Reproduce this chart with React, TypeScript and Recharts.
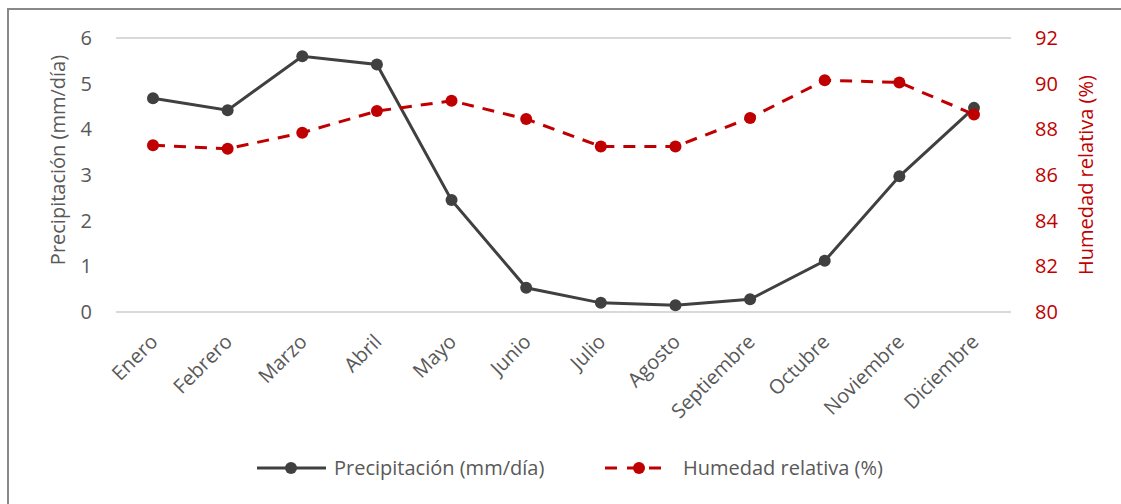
import React from "react"
import { ComposedChart, Line, XAxis, YAxis, CartesianGrid, Legend } from "recharts"

const months = [
  "Enero", "Febrero", "Marzo", "Abril", "Mayo", "Junio",
  "Julio", "Agosto", "Septiembre", "Octubre", "Noviembre", "Diciembre",
]
const precipitacion = [4.68, 4.42, 5.6, 5.42, 2.45, 0.53, 0.2, 0.15, 0.28, 1.12, 2.97, 4.47]
const humedad = [87.3, 87.15, 87.85, 88.8, 89.25, 88.45, 87.25, 87.25, 88.5, 90.15, 90.05, 88.65]
const leftTicks = [0, 1, 2, 3, 4, 5, 6]
const rightTicks = [80, 82, 84, 86, 88, 90, 92]

const FONT = "'Open Sans', sans-serif"
const GREY = "#595959"
const DARK = "#404040"
const RED = "#C00000"

const chartData = months.map((m, i) => ({
  month: m,
  precip: precipitacion[i],
  hum: humedad[i],
}))

// rotated month labels, anchored at their end just below the tick
const MonthTick = ({ x, y, payload }: any) => (
  <text
    x={x + 6}
    y={y + 23}
    transform={`rotate(-45, ${x + 6}, ${y + 23})`}
    textAnchor="end"
    fill={GREY}
    fontSize={20}
    fontFamily={FONT}
  >
    {payload.value}
  </text>
)

const LeftLabel = ({ viewBox }: any) => (
  <text
    x={57}
    y={viewBox.y + viewBox.height / 2 - 15}
    transform={`rotate(-90, 57, ${viewBox.y + viewBox.height / 2 - 15})`}
    textAnchor="middle"
    dominantBaseline="central"
    fill={GREY}
    fontSize={20}
    fontFamily={FONT}
  >
    Precipitación (mm/día)
  </text>
)

const RightLabel = ({ viewBox }: any) => (
  <text
    x={1085}
    y={viewBox.y + viewBox.height / 2}
    transform={`rotate(-90, 1085, ${viewBox.y + viewBox.height / 2})`}
    textAnchor="middle"
    dominantBaseline="central"
    fill={RED}
    fontSize={20}
    fontFamily={FONT}
  >
    Humedad relativa (%)
  </text>
)

const LegendContent = () => (
  <div style={{ position: "relative", height: 30, fontFamily: FONT, fontSize: 20, color: GREY }}>
    <svg width={72} height={30} style={{ position: "absolute", left: 256, top: 0 }}>
      <line x1={1} y1={15} x2={70} y2={15} stroke={DARK} strokeWidth={3} />
      <circle cx={35} cy={15} r={6} fill={DARK} />
    </svg>
    <span style={{ position: "absolute", left: 334, top: 0, lineHeight: "30px", whiteSpace: "nowrap" }}>
      Precipitación (mm/día)
    </span>
    <svg width={60} height={30} style={{ position: "absolute", left: 604, top: 0 }}>
      <line x1={1} y1={15} x2={58} y2={15} stroke={RED} strokeWidth={3} strokeDasharray="12 10" />
      <circle cx={35} cy={15} r={6} fill={RED} />
    </svg>
    <span style={{ position: "absolute", left: 683, top: 0, lineHeight: "30px", whiteSpace: "nowrap" }}>
      Humedad relativa (%)
    </span>
  </div>
)

export default function App() {
  return (
    <div style={{ position: "absolute", left: 0, top: 0, width: 1121, height: 504, background: "#fff", overflow: "hidden" }}>
      <div
        style={{
          position: "absolute", left: 7, top: 8, width: 1130, height: 520,
          border: "2px solid #888", boxSizing: "border-box",
        }}
      />
      <div style={{ position: "absolute", left: 0, top: 0 }}>
        <ComposedChart
          width={1121}
          height={504}
          data={chartData}
          margin={{ top: 38, right: 0, left: 0, bottom: 52 }}
        >
          <CartesianGrid vertical={false} stroke="#d9d9d9" strokeWidth={2} />
          <XAxis
            dataKey="month"
            axisLine={false}
            tickLine={false}
            interval={0}
            height={110}
            padding={{ left: 37, right: 37 }}
            tick={<MonthTick />}
          />
          <YAxis
            yAxisId="left"
            domain={[0, 6]}
            ticks={leftTicks}
            axisLine={false}
            tickLine={false}
            tickSize={0}
            tickMargin={24}
            width={116}
            tick={{ fill: GREY, fontSize: 20, fontFamily: FONT }}
            label={<LeftLabel />}
          />
          <YAxis
            yAxisId="right"
            orientation="right"
            domain={[80, 92]}
            ticks={rightTicks}
            axisLine={false}
            tickLine={false}
            tickSize={0}
            tickMargin={24}
            width={110}
            tick={{ fill: RED, fontSize: 20, fontFamily: FONT }}
            label={<RightLabel />}
          />
          <Legend
            verticalAlign="bottom"
            content={<LegendContent />}
            wrapperStyle={{ left: 0, width: 1121, top: 453 }}
          />
          <Line
            yAxisId="left"
            dataKey="precip"
            stroke={DARK}
            strokeWidth={3}
            dot={{ r: 6, fill: DARK, stroke: DARK, strokeWidth: 0 }}
            isAnimationActive={false}
          />
          <Line
            yAxisId="right"
            dataKey="hum"
            stroke={RED}
            strokeWidth={3}
            strokeDasharray="12 9"
            dot={{ r: 6, fill: RED, stroke: RED, strokeWidth: 0 }}
            isAnimationActive={false}
          />
        </ComposedChart>
      </div>
    </div>
  )
}
